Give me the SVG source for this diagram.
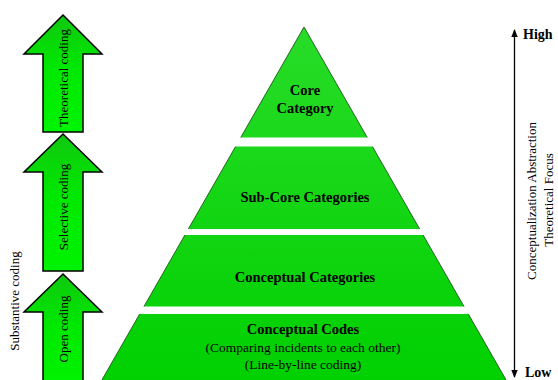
<svg xmlns="http://www.w3.org/2000/svg" width="558" height="380" viewBox="0 0 558 380">
  <defs>
    <linearGradient id="pyr" x1="0" y1="0" x2="0" y2="1">
      <stop offset="0" stop-color="#28dc28"/>
      <stop offset="1" stop-color="#00d000"/>
    </linearGradient>
    <linearGradient id="arr" x1="0" y1="0" x2="0" y2="1">
      <stop offset="0" stop-color="#10c810"/>
      <stop offset="0.45" stop-color="#00e800"/>
      <stop offset="1" stop-color="#00f400"/>
    </linearGradient>
    <marker id="ah" viewBox="0 0 8 8" refX="7" refY="4" markerWidth="8" markerHeight="8" markerUnits="userSpaceOnUse" orient="auto">
      <path d="M0,0.8 L8,4 L0,7.2 Z" fill="#000"/>
    </marker>
  </defs>
  <style>
    text { font-family: "Liberation Serif", Tinos, "Times New Roman", "DejaVu Serif", serif; fill: #000; }
    .arrow { fill: url(#arr); stroke: #000; stroke-width: 1.5; stroke-linejoin: miter; }
    .vlab { font-size: 13px; text-anchor: middle; dominant-baseline: central; }
    .plab { font-size: 14.5px; font-weight: bold; text-anchor: middle; }
    .psub { font-size: 13.5px; text-anchor: middle; }
    .axl { font-size: 14px; font-weight: bold; }
    .gap { fill: #fff; }
  </style>
  <rect width="558" height="380" fill="#fff"/>

  <g id="pyramid">
    <polygon points="304,27 99,385 509,385" fill="url(#pyr)" stroke="#114411" stroke-width="0.8"/>
    <rect class="gap" x="90" y="137.5" width="430" height="9"/>
    <rect class="gap" x="90" y="229" width="430" height="6"/>
    <rect class="gap" x="90" y="306.5" width="430" height="7.5"/>
  </g>

  <g id="core-category">
    <text class="plab" x="305" y="95">Core</text>
    <text class="plab" x="305" y="113">Category</text>
  </g>
  <g id="sub-core-categories">
    <text class="plab" x="305" y="202">Sub-Core Categories</text>
  </g>
  <g id="conceptual-categories">
    <text class="plab" x="305" y="282">Conceptual Categories</text>
  </g>
  <g id="conceptual-codes">
    <text class="plab" x="303" y="334">Conceptual Codes</text>
    <text class="psub" x="303" y="352">(Comparing incidents to each other)</text>
    <text class="psub" x="303" y="369">(Line-by-line coding)</text>
  </g>

  <g id="theoretical-coding">
    <polygon class="arrow" points="63,15 102,54 83,54 83,132 43,132 43,54 24,54"/>
    <text class="vlab" transform="translate(63,78) rotate(-90)">Theoretical coding</text>
  </g>
  <g id="selective-coding">
    <polygon class="arrow" points="63,134 102,172 83,172 83,271 43,271 43,172 24,172"/>
    <text class="vlab" transform="translate(63,207) rotate(-90)">Selective coding</text>
  </g>
  <g id="open-coding">
    <polygon class="arrow" points="63,274 102,312 83,312 83,386 43,386 43,312 24,312"/>
    <text class="vlab" transform="translate(63,329) rotate(-90)">Open coding</text>
  </g>
  <g id="substantive-coding">
    <text class="vlab" transform="translate(14,301) rotate(-90)">Substantive coding</text>
  </g>

  <g id="connectors">
    <line x1="514.5" y1="204" x2="514.5" y2="30" stroke="#000" stroke-width="1.3" marker-end="url(#ah)"/>
    <line x1="514.5" y1="204" x2="514.5" y2="377" stroke="#000" stroke-width="1.3" marker-end="url(#ah)"/>
  </g>

  <g id="axis-labels">
    <text class="axl" x="523" y="39">High</text>
    <text class="axl" x="525" y="376.5">Low</text>
    <text class="vlab" transform="translate(531,201) rotate(-90)">Conceptualization Abstraction</text>
    <text class="vlab" transform="translate(548,200) rotate(-90)">Theoretical Focus</text>
  </g>
</svg>
